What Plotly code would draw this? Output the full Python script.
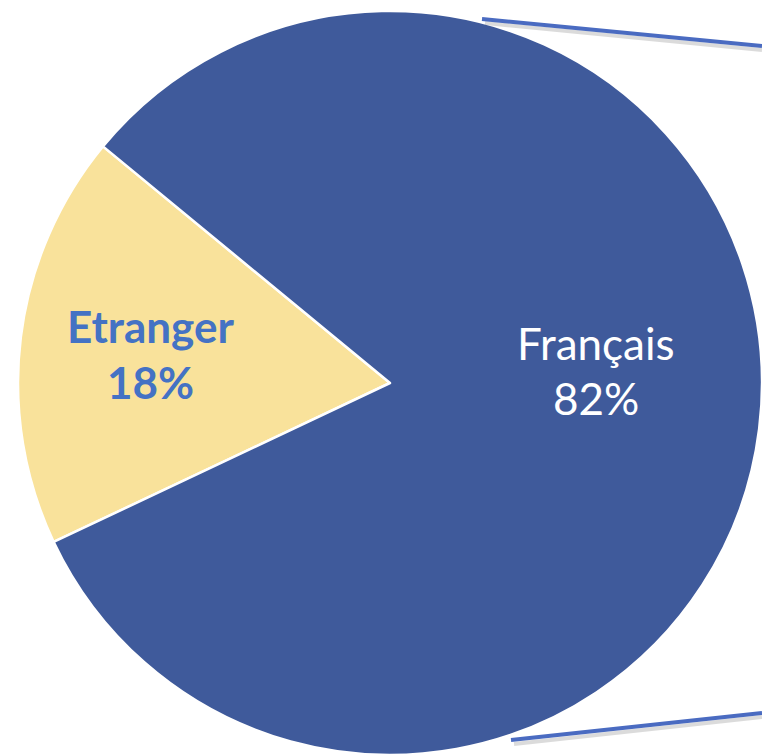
import plotly.graph_objects as go

labels = ["Etranger", "Français"]
values = [18, 82]
colors = ["#F9E29B", "#3F5A9B"]
text_colors = ["#4472C4", "#FFFFFF"]
text_bold = [True, False]

W, H = 762, 755

fig = go.Figure(go.Pie(
    labels=labels,
    values=values,
    sort=False,
    direction="clockwise",
    rotation=244.7,
    marker=dict(colors=colors, line=dict(color="white", width=2.5)),
    textinfo="none",
    showlegend=False,
    hoverinfo="label+percent",
    domain=dict(x=[18 / W, 1.0], y=[0.0, 1 - 11 / H]),
))

# slice labels (two lines each), text from the data lists
total = sum(values)
label_pos = [(150, 326, 382), (596, 343, 398)]  # pixel centre x, line1 y, line2 y
for lab, val, col, bold, (px, y1, y2) in zip(labels, values, text_colors, text_bold, label_pos):
    pct = f"{round(100 * val / total)}%"
    for txt, py in ((lab, y1), (pct, y2)):
        fig.add_annotation(
            x=px / W, y=1 - py / H, xref="paper", yref="paper",
            text=f"<b>{txt}</b>" if bold else txt,
            showarrow=False, xanchor="center", yanchor="middle",
            font=dict(family="Lato, Open Sans, sans-serif", size=44, color=col),
        )

# pie-of-pie connector lines (decorative)
for (x0, y0, x1, y1) in [(482, 19, 762, 46), (511, 740, 762, 713)]:
    fig.add_shape(type="line", xref="paper", yref="paper",
                  x0=(x0 + 3) / W, y0=1 - (y0 + 4) / H, x1=x1 / W, y1=1 - (y1 + 4) / H,
                  line=dict(color="rgba(0,0,0,0.14)", width=4))
    fig.add_shape(type="line", xref="paper", yref="paper",
                  x0=x0 / W, y0=1 - y0 / H, x1=x1 / W, y1=1 - y1 / H,
                  line=dict(color="#4A6BC1", width=4))

fig.update_layout(
    width=W, height=H,
    margin=dict(l=0, r=0, t=0, b=0),
    paper_bgcolor="white",
    plot_bgcolor="white",
)

fig.write_html("out.html", config={"displayModeBar": False},
               post_script="document.body.style.margin='0';document.body.style.overflow='hidden';")
